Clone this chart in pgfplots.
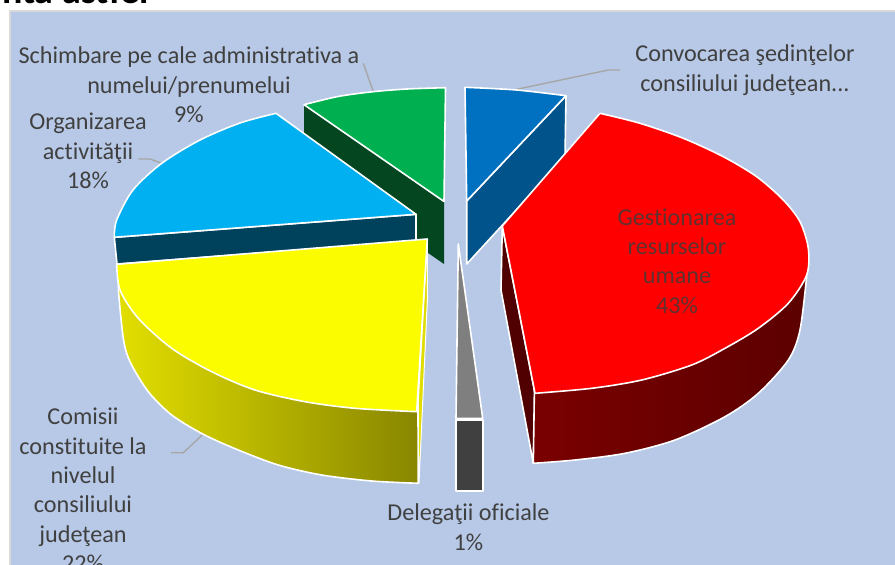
\documentclass[border=0pt]{standalone}
\usepackage{fontspec}
\setmainfont[Ligatures=NoCommon]{Carlito}
\usepackage{pgfplots}
\pgfplotsset{compat=1.18}
\definecolor{panel}{HTML}{B7C9E7}
\definecolor{panelline}{HTML}{D9D9D9}
\definecolor{lead}{HTML}{A6A6A6}
\definecolor{txt}{HTML}{404040}
\tikzset{lab/.style={text=txt, align=center, font=\fontsize{24.2}{29.4}\selectfont, inner sep=0pt}}
\begin{document}
\begin{tikzpicture}
\useasboundingbox (0,0) rectangle (895pt,565pt);
\begin{axis}[
    at={(0,0)}, anchor=south west,
    scale only axis, width=895pt, height=565pt,
    xmin=0, xmax=895, ymin=0, ymax=565,
    y dir=reverse, hide axis, no markers, clip=true,
    every axis plot/.append style={line join=round}]

% panel
\addplot[fill=panel, draw=panelline, line width=2pt] coordinates {(10,11) (900,11) (900,570) (10,570)} -- cycle;

% leader lines
\addplot[lead, line width=1.4pt] coordinates {(363.3,63.3) (373.3,91.7)};
\addplot[lead, line width=1.4pt] coordinates {(138.3,159) (150,159) (161.7,163.3)};
\addplot[lead, line width=1.4pt] coordinates {(620,70) (608.3,70) (516.7,89.3)};
\addplot[lead, line width=1.4pt] coordinates {(171,452.7) (183.3,452.7) (203.3,434)};

% 9% slice
\addplot[fill={rgb,255:red,3;green,70;blue,32}, draw=none] coordinates {(304,105) (444,201.5) (444,264) (304,167)} -- cycle;
\addplot[fill={rgb,255:red,0;green,176;blue,80}, draw=white, line width=1.6pt, smooth] coordinates {(304,104.7) (338,96.5) (373,91.7) (407,89) (445.5,87.7)} -- (axis cs:444,201.5) -- cycle;

% 18% slice
\addplot[fill={rgb,255:red,0;green,65;blue,92}, draw=white, line width=1.6pt] coordinates {(114.3,237.3) (416,214.3) (416,241) (117,264)} -- cycle;
\addplot[fill={rgb,255:red,0;green,176;blue,240}, draw=white, line width=1.6pt, smooth] coordinates {(114.3,237.3) (116.7,220) (133,190) (161.7,163.3) (200,140) (240,123) (276,113.3)} -- (axis cs:416,214.3) -- cycle;

% 22% slice
\addplot[fill={rgb,255:red,222;green,220;blue,0}, draw=white, line width=1pt] coordinates {(427.3,239) (427.5,297) (419,483) (417.7,412)} -- cycle;
\addplot[left color={rgb,255:red,226;green,222;blue,0}, right color={rgb,255:red,136;green,134;blue,0}, draw=white, line width=1.6pt, smooth] coordinates {(118.3,290) (123.3,338.3) (130,361.7) (148.3,391.7) (171.7,415) (203.3,434.3) (238.3,450) (278.3,465) (321.7,475) (371.7,481) (418.3,483.3)} -- (axis cs:417.7,350) -- (axis cs:118.3,270) -- cycle;
\addplot[fill={rgb,255:red,252;green,252;blue,0}, draw=white, line width=1.6pt, smooth] coordinates {(116.7,264.3) (120,290) (138.3,318.3) (171.7,348.3) (211.7,371.7) (255,390) (305,401.7) (355,408.3) (416.7,411.7)} -- (axis cs:427.3,239) -- cycle;

% 1% slice
\addplot[fill={rgb,255:red,64;green,64;blue,64}, draw=white, line width=1.6pt] coordinates {(456,420) (482.7,420) (482.7,490.7) (456,490.7)} -- cycle;
\addplot[fill={rgb,255:red,127;green,127;blue,127}, draw=white, line width=1.6pt] coordinates {(458.3,244) (482.7,418.3) (456,418.3)} -- cycle;

% convocarea slice
\addplot[fill={rgb,255:red,0;green,84;blue,139}, draw=white, line width=1.6pt] coordinates {(566,95.7) (466.7,201) (466.7,264) (565,157)} -- cycle;
\addplot[fill={rgb,255:red,0;green,112;blue,192}, draw=white, line width=1.6pt, smooth] coordinates {(465,87.3) (516.7,90) (566,95.7)} -- (axis cs:466.7,201) -- cycle;

% 43% slice
\addplot[fill={rgb,255:red,80;green,0;blue,0}, draw=white, line width=1.6pt] coordinates {(502.3,226) (535,393.3) (533.3,463.3) (501,290)} -- cycle;
\addplot[left color={rgb,255:red,122;green,0;blue,0}, middle color={rgb,255:red,92;green,0;blue,0}, right color={rgb,255:red,92;green,0;blue,0}, draw=white, line width=1.6pt, smooth] coordinates {(533.3,463.3) (575,460) (625,453.3) (675,440) (725,416.7) (758.3,393.3) (788.3,360) (800,330) (806.7,276)} -- (axis cs:700,250) -- (axis cs:535,350) -- cycle;
\addplot[fill={rgb,255:red,255;green,0;blue,0}, draw=white, line width=1.6pt, smooth] coordinates {(600,113.3) (640,123.3) (683.3,138.3) (723.3,156.7) (756.7,176.7) (783.3,200) (800,221.7) (808.3,248.3) (806.7,275) (788.3,303.3) (758.3,328.3) (725,348.3) (691.7,365) (641.7,380) (591.7,388.3) (535,393.3)} -- (axis cs:502.3,226) -- cycle;

% text
\node[lab] at (axis cs:189,85) {Schimbare pe cale administrativa a\\numelui/prenumelui\\9\%};
\node[lab] at (axis cs:88,151) {Organizarea\\activităţii\\18\%};
\node[lab] at (axis cs:745,70) {Convocarea şedinţelor\\consiliului judeţean...};
\node[lab, text={rgb,255:red,95;green,50;blue,50}] at (axis cs:677,261) {Gestionarea\\resurselor\\umane\\43\%};
\node[lab] at (axis cs:83,490) {Comisii\\constituite la\\nivelul\\consiliului\\judeţean\\22\%};
\node[lab] at (axis cs:468.5,527) {Delegaţii oficiale\\1\%};
\node[anchor=base east, inner sep=0pt, font=\fontsize{38}{42}\selectfont\bfseries] at (axis cs:149,3) {nta astfel};
\end{axis}
\end{tikzpicture}
\end{document}
